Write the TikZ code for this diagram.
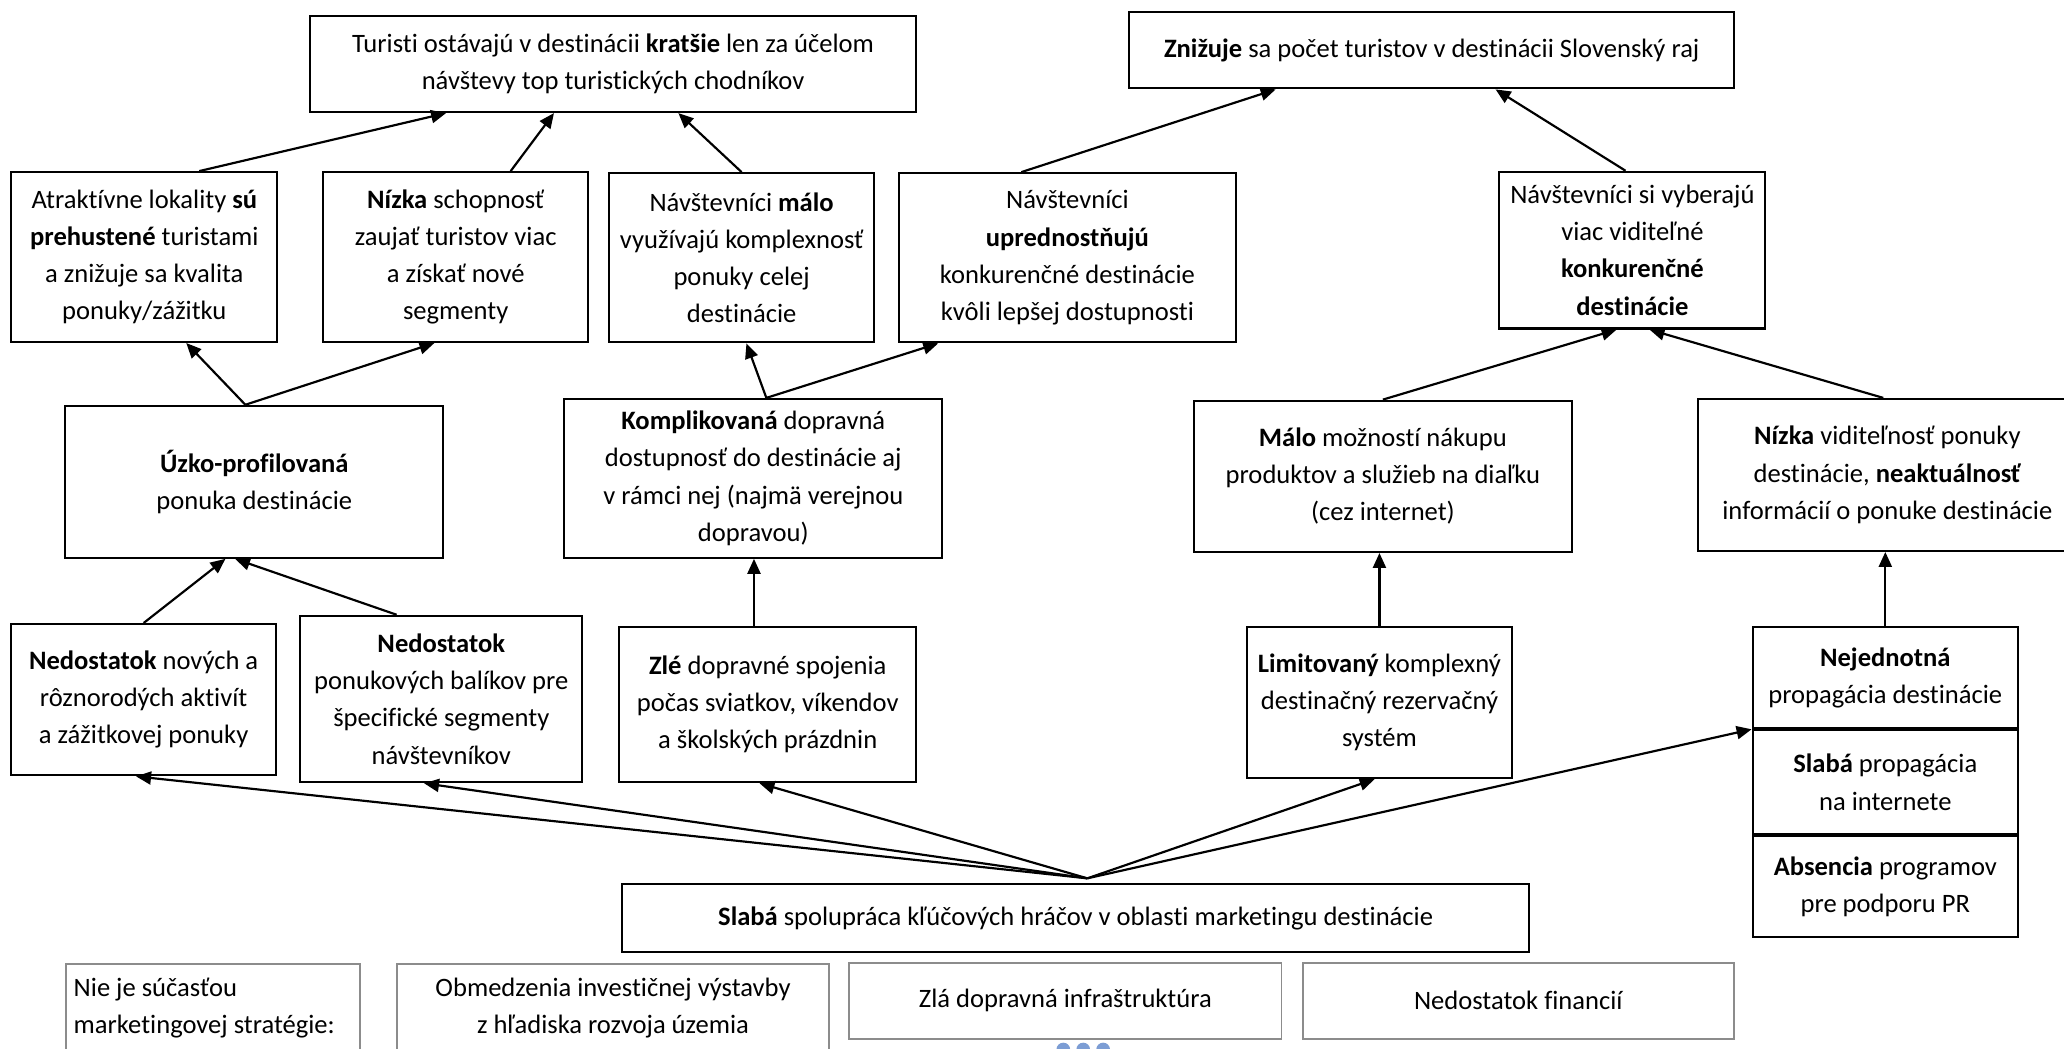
\documentclass[tikz,border=0pt]{standalone}
\usepackage{fontspec}
\setmainfont{Carlito}[Ligatures=NoCommon]
\usepackage{tikz}
\usetikzlibrary{
    arrows.meta,
    positioning
}
\usepackage{xcolor}
\definecolor{boxgray}{RGB}{140,140,140}
\definecolor{dotblue}{RGB}{124,157,212}

\begin{document}
\begin{tikzpicture}[
        >={Triangle[length=6.2pt,width=5.4pt]},
        node distance=0pt,
        font=\fontsize{11pt}{15.4pt}\selectfont,
        box/.style={
            rectangle,
            draw,
            line width=0.9pt,
            align=center,
            inner sep=2pt
        },
        graybox/.style={
            rectangle,
            draw=boxgray,
            line width=0.8pt,
            align=center
        },
        link/.style={
            ->,
            line width=0.9pt
        }
    ]

    \useasboundingbox (0,0) rectangle (30.03,-15.25);
    \clip (0,0) rectangle (30.03,-15.25);

    % consequences
    \node[box, minimum width=8.82cm, minimum height=1.40cm] (T1) at (8.92,-0.93)
        {Turisti ostávajú v destinácii \textbf{kratšie} len za účelom\\návštevy top turistických chodníkov};
    \node[box, minimum width=8.80cm, minimum height=1.11cm] (T2) at (20.83,-0.73)
        {\textbf{Znižuje} sa počet turistov v destinácii Slovenský raj};

    \node[box, minimum width=3.87cm, minimum height=2.47cm] (A1) at (2.10,-3.74)
        {Atraktívne lokality \textbf{sú}\\\textbf{prehustené} turistami\\a znižuje sa kvalita\\ponuky/zážitku};
    \node[box, minimum width=3.86cm, minimum height=2.47cm] (A2) at (6.63,-3.74)
        {\textbf{Nízka} schopnosť\\zaujať turistov viac\\a získať nové\\segmenty};
    \node[box, minimum width=3.86cm, minimum height=2.46cm] (A3) at (10.79,-3.75)
        {Návštevníci \textbf{málo}\\využívajú komplexnosť\\ponuky celej\\destinácie};
    \node[box, minimum width=4.90cm, minimum height=2.46cm] (A4) at (15.53,-3.75)
        {Návštevníci\\\textbf{uprednostňujú}\\konkurenčné destinácie\\kvôli lepšej dostupnosti};
    \node[box, minimum width=3.87cm, minimum height=2.28cm] (A5) at (23.75,-3.64)
        {Návštevníci si vyberajú\\viac viditeľné\\\textbf{konkurenčné}\\\textbf{destinácie}};

    % problems
    \node[box, minimum width=5.50cm, minimum height=2.21cm] (U) at (3.70,-7.01)
        {\textbf{Úzko-profilovaná}\\ponuka destinácie};
    \node[box, minimum width=5.50cm, minimum height=2.31cm] (K) at (10.96,-6.96)
        {\textbf{Komplikovaná} dopravná\\dostupnosť do destinácie aj\\v rámci nej (najmä verejnou\\dopravou)};
    \node[box, minimum width=5.50cm, minimum height=2.20cm] (M) at (20.12,-6.93)
        {\textbf{Málo} možností nákupu\\produktov a služieb na diaľku\\(cez internet)};
    \node[box, minimum width=5.50cm, minimum height=2.21cm] (N) at (27.46,-6.91)
        {\textbf{Nízka} viditeľnosť ponuky\\destinácie, \textbf{neaktuálnosť}\\informácií o ponuke destinácie};

    % causes
    \node[box, minimum width=3.86cm, minimum height=2.20cm] (B1) at (2.09,-10.18)
        {\textbf{Nedostatok} nových a\\rôznorodých aktivít\\a zážitkovej ponuky};
    \node[box, minimum width=4.10cm, minimum height=2.42cm] (B2) at (6.42,-10.17)
        {\textbf{Nedostatok}\\ponukových balíkov pre\\špecifické segmenty\\návštevníkov};
    \node[box, minimum width=4.32cm, minimum height=2.26cm] (B3) at (11.17,-10.25)
        {\textbf{Zlé} dopravné spojenia\\počas sviatkov, víkendov\\a školských prázdnin};
    \node[box, minimum width=3.86cm, minimum height=2.20cm] (L) at (20.07,-10.22)
        {\textbf{Limitovaný} komplexný\\destinačný rezervačný\\systém};
    \node[box, minimum width=3.86cm, minimum height=1.47cm] (P1) at (27.43,-9.86)
        {\textbf{Nejednotná}\\propagácia destinácie};
    \node[box, minimum width=3.86cm, minimum height=1.51cm, below=of P1] (P2)
        {\textbf{Slabá} propagácia\\na internete};
    \node[box, minimum width=3.86cm, minimum height=1.46cm, below=of P2] (P3)
        {\textbf{Absencia} programov\\pre podporu PR};

    % root cause
    \node[box, minimum width=13.20cm, minimum height=0.99cm] (S) at (15.65,-13.36)
        {\textbf{Slabá} spolupráca kľúčových hráčov v oblasti marketingu destinácie};
    \coordinate (hub) at ([xshift=0.17cm,yshift=0.07cm]S.north);

    % outside causes
    \node[graybox, anchor=north west, minimum width=4.28cm, minimum height=2.2cm] (G1) at (0.95,-14.01) {};
    \node[anchor=north west, align=left, inner xsep=3.3pt, inner ysep=6pt] (G1t) at (G1.north west)
        {Nie je súčasťou\\marketingovej stratégie:};
    \node[graybox, anchor=north west, minimum width=6.29cm, minimum height=2.2cm] (G2) at (5.76,-14.01) {};
    \node[anchor=north, align=center, inner ysep=6pt] (G2t) at (G2.north)
        {Obmedzenia investičnej výstavby\\z hľadiska rozvoja územia};
    \node[graybox, minimum width=6.29cm, minimum height=1.11cm] (G3) at (15.50,-14.56)
        {Zlá dopravná infraštruktúra};
    \node[graybox, minimum width=6.27cm, minimum height=1.11cm] (G4) at (22.09,-14.56)
        {Nedostatok financií};

    \fill[dotblue] (15.47,-15.27) circle (0.10) (15.76,-15.27) circle (0.10) (16.05,-15.27) circle (0.10);

    % arrows
    \draw[link] ([xshift=0.80cm]A1.north) -- ([xshift=-2.43cm]T1.south);
    \draw[link] ([xshift=0.80cm]A2.north) -- ([xshift=-0.86cm]T1.south);
    \draw[link] (A3.north) -- ([xshift=0.95cm]T1.south);
    \draw[link] ([xshift=-0.67cm]A4.north) -- ([xshift=-2.27cm]T2.south);
    \draw[link] ([xshift=-0.10cm]A5.north) -- ([xshift=0.93cm]T2.south);

    \draw[link] ([xshift=-0.13cm]U.north) -- ([xshift=0.61cm]A1.south);
    \draw[link] ([xshift=-0.13cm]U.north) -- ([xshift=-0.31cm]A2.south);
    \draw[link] ([xshift=0.19cm]K.north) -- ([xshift=0.07cm]A3.south);
    \draw[link] ([xshift=0.19cm]K.north) -- ([xshift=-1.88cm]A4.south);
    \draw[link] (M.north) -- ([xshift=-0.23cm]A5.south);
    \draw[link] ([xshift=-0.06cm]N.north) -- ([xshift=0.25cm]A5.south);

    \draw[link] (B1.north) -- ([xshift=-0.42cm]U.south);
    \draw[link] ([xshift=-0.65cm]B2.north) -- ([xshift=-0.28cm]U.south);
    \draw[link] ([xshift=-0.20cm]B3.north) -- ([xshift=-0.20cm]B3.north |- K.south);
    \draw[link] (L.north) -- (L.north |- M.south);
    \draw[link] (P1.north) -- (P1.north |- N.south);

    \draw[link] (hub) -- ([xshift=-0.11cm]B1.south);
    \draw[link] (hub) -- ([xshift=-0.25cm]B2.south);
    \draw[link] (hub) -- ([xshift=-0.12cm]B3.south);
    \draw[link] (hub) -- ([xshift=-0.07cm]L.south);
    \draw[link] (hub) -- (P1.south west);

\end{tikzpicture}
\end{document}
